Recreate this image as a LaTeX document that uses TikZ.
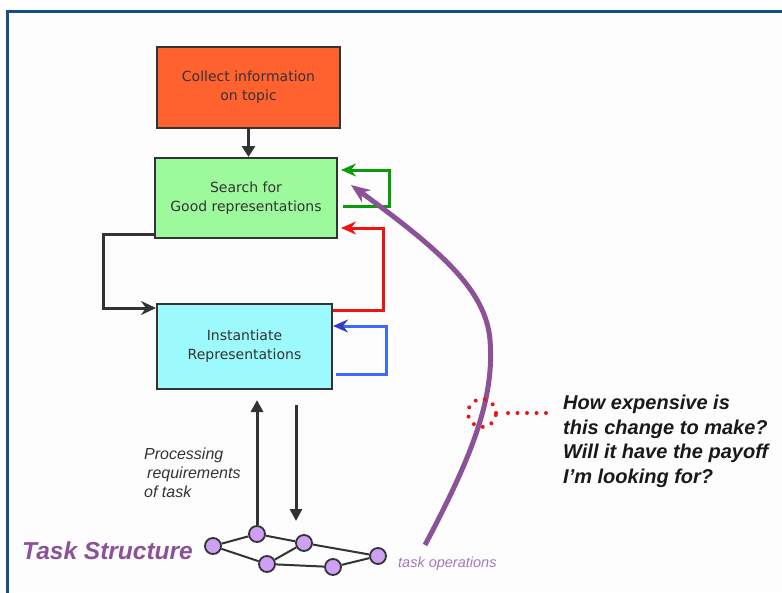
\documentclass[tikz,border=0pt]{standalone}
\usepackage{fontspec}
\setmainfont{Liberation Sans}
\newfontfamily\boxfont{DejaVu Sans}
\usetikzlibrary{arrows.meta}

\definecolor{framecol}{RGB}{22,78,138}
\definecolor{panelbg}{RGB}{253,253,253}
\definecolor{darkline}{RGB}{51,51,51}
\definecolor{orangefill}{RGB}{255,98,46}
\definecolor{greenfill}{RGB}{156,250,156}
\definecolor{cyanfill}{RGB}{156,250,252}
\definecolor{loopgreen}{RGB}{10,155,10}
\definecolor{loopred}{RGB}{238,20,20}
\definecolor{loopblue}{RGB}{60,108,245}
\definecolor{tipblue}{RGB}{50,60,190}
\definecolor{opviolet}{RGB}{140,82,152}
\definecolor{lightviolet}{RGB}{165,120,185}
\definecolor{nodeviolet}{RGB}{205,160,245}

\tikzset{
  stepbox/.style={draw=darkline, line width=2pt, align=center, text=darkline,
    font=\boxfont\fontsize{14}{19}\selectfont, inner sep=0pt},
  flow/.style={draw=darkline, line width=3pt},
  loop/.style={line width=3pt,
    -{Stealth[length=15pt,width=13pt,inset=5pt]}},
  tnode/.style={circle, draw=darkline, line width=1.8pt, fill=nodeviolet,
    minimum size=16pt, inner sep=0pt},
  tedge/.style={draw=darkline, line width=2pt},
  redots/.style={draw=loopred, line width=4pt, line cap=round,
    dash pattern=on 0pt off 9.5pt},
}

\begin{document}
\begin{tikzpicture}[x=1pt,y=-1pt]
\useasboundingbox (0,0) rectangle (782,592);
\fill[white] (0,0) rectangle (782,592);
\fill[panelbg] (7,11) rectangle (782,592);
\draw[framecol, line width=3pt] (7,595) -- (7,11) -- (785,11);

% process boxes
\node[stepbox, fill=orangefill, minimum width=183pt, minimum height=81pt]
  (collect) at (248.5,87.5) {Collect information\\on topic};
\node[stepbox, fill=greenfill, minimum width=182pt, minimum height=80pt]
  (search) at (246,198) {Search for\\Good representations};
\node[stepbox, fill=cyanfill, minimum width=175pt, minimum height=85pt]
  (inst) at (244.5,346.5) {Instantiate\\Representations};

% main flow
\draw[flow, -{Triangle[length=11pt,width=13pt]}]
  (collect.south) -- (collect.south |- search.north);
\draw[flow, -{Stealth[length=15pt,width=14pt,inset=5pt]}]
  ([yshift=5pt]search.south west) -- ++(-51,0) |- ([yshift=-5pt]inst.north west);

% feedback loops
\draw[loop, draw=loopgreen]
  ([xshift=5pt,yshift=-8pt]search.east) -- ++(46,0)
  |- ([xshift=3pt,yshift=28pt]search.east);
\draw[loop, draw=loopred]
  ([yshift=-7pt]inst.north east) -- ++(50,0)
  |- ([xshift=3pt,yshift=11pt]search.south east);
\draw[line width=3pt, draw=loopblue,
  -{Stealth[length=15pt,width=13pt,inset=5pt,color=tipblue]}]
  ([xshift=3pt,yshift=16pt]inst.south east) -- ++(50,0)
  |- ([yshift=-23pt]inst.north east);

% task structure graph
\node[tnode] (t1) at (213,546) {};
\node[tnode] (t2) at (257,534) {};
\node[tnode] (t3) at (304,543) {};
\node[tnode] (t4) at (267,564) {};
\node[tnode] (t5) at (333,567) {};
\node[tnode] (t6) at (378,556) {};
\draw[tedge] (t1) -- (t2);
\draw[tedge] (t2) -- (t3);
\draw[tedge] (t1) -- (t4);
\draw[tedge] (t4) -- (t3);
\draw[tedge] (t3) -- (t6);
\draw[tedge] (t4) -- (t5);
\draw[tedge] (t5) -- (t6);

% exchange between representations and task
\coordinate (upend) at (257,400);
\coordinate (downstart) at (296,405);
\coordinate (downend) at (296,521);
\draw[flow, -{Triangle[length=12pt,width=12pt]}] (t2.north) -- (upend);
\draw[flow, -{Triangle[length=12pt,width=12pt]}] (downstart) -- (downend);

\node[anchor=north west, inner sep=0pt, align=left, text=darkline,
  font=\itshape\fontsize{16}{19}\selectfont] (proc) at (144,448)
  {Processing\\\hspace*{3pt}requirements\\of task};
\node[anchor=base west, inner sep=0pt, text=opviolet,
  font=\bfseries\itshape\fontsize{24.5}{28}\selectfont] (tstruct) at (22,559)
  {Task Structure};

% task operations curve
\coordinate (opstart) at (425,545);
\draw[opviolet, line width=5pt,
  -{Stealth[length=19pt,width=15pt,inset=6pt]}]
  (opstart) .. controls (470,460) and (495,400) .. (490,340)
  .. controls (486,290) and (440,250) .. ([xshift=13pt,yshift=13pt]search.east);
\node[anchor=base west, inner sep=0pt, text=lightviolet,
  font=\itshape\fontsize{14.5}{17}\selectfont] (topl) at (398,567)
  {task operations};

% cost question
\node[circle, redots, minimum size=28pt, inner sep=0pt] (spot) at (482,413) {};
\coordinate (qlead) at (548,413);
\draw[redots] ([xshift=10pt]spot.east) -- (qlead);
\node[anchor=north west, inner sep=0pt, align=left, text=black!90,
  font=\bfseries\itshape\fontsize{20}{24.5}\selectfont] (question) at (563,395)
  {How expensive is\\this change to make?\\Will it have the payoff\\I'm looking for?};
\end{tikzpicture}
\end{document}
